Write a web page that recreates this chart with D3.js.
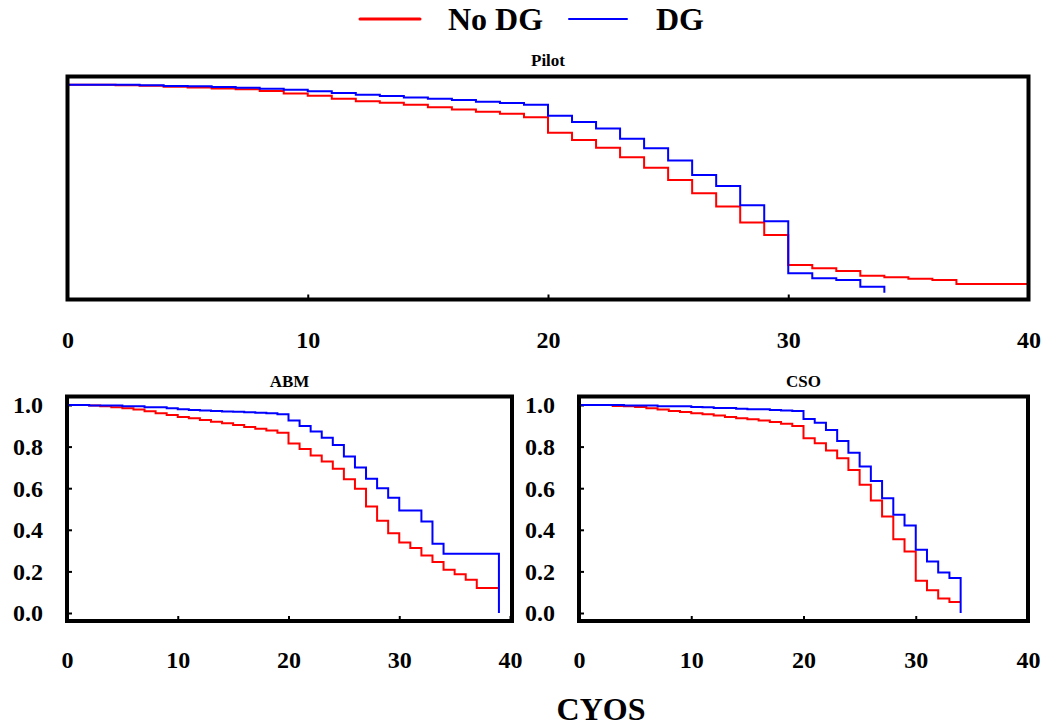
<!DOCTYPE html>
<html>
<head>
<meta charset="utf-8">
<script src="https://cdn.jsdelivr.net/npm/d3@7"></script>
<style>
body { margin: 0; background: #fff; }
text { font-family: "Liberation Serif", "Times New Roman", serif; font-weight: bold; fill: #000; }
</style>
</head>
<body>
<script>
// survival by year, index = year (CYOS)
var pilotNoDG = [1.0, 1.0, 0.997, 0.995, 0.990, 0.987, 0.982, 0.978, 0.970, 0.958,
                 0.947, 0.933, 0.921, 0.913, 0.904, 0.891, 0.881, 0.870, 0.860, 0.844,
                 0.769, 0.734, 0.697, 0.651, 0.601, 0.542, 0.478, 0.414, 0.337, 0.277,
                 0.133, 0.117, 0.104, 0.082, 0.074, 0.067, 0.061, 0.042, 0.042, 0.042, 0.0];
var pilotDG = [1.0, 1.0, 1.0, 0.997, 0.994, 0.992, 0.989, 0.985, 0.981, 0.976,
               0.968, 0.960, 0.952, 0.946, 0.939, 0.933, 0.926, 0.918, 0.912, 0.904,
               0.851, 0.821, 0.789, 0.740, 0.694, 0.635, 0.566, 0.513, 0.421, 0.344,
               0.093, 0.069, 0.061, 0.029, 0.0];

var abmNoDG = [1.0, 1.0, 0.997, 0.994, 0.989, 0.984, 0.978, 0.970, 0.960, 0.952,
               0.942, 0.936, 0.928, 0.920, 0.912, 0.904, 0.894, 0.886, 0.877, 0.867,
               0.815, 0.789, 0.757, 0.728, 0.693, 0.643, 0.597, 0.512, 0.443, 0.384,
               0.339, 0.312, 0.277, 0.245, 0.208, 0.186, 0.160, 0.120, 0.120, 0.120];
var abmDG = [1.0, 1.0, 0.997, 0.997, 0.997, 0.994, 0.994, 0.989, 0.989, 0.984,
             0.979, 0.976, 0.973, 0.971, 0.969, 0.967, 0.965, 0.963, 0.960, 0.955,
             0.925, 0.899, 0.872, 0.843, 0.808, 0.752, 0.699, 0.645, 0.600, 0.554,
             0.493, 0.493, 0.440, 0.333, 0.285, 0.285, 0.285, 0.285, 0.285, 0.0];

var csoNoDG = [1.0, 1.0, 1.0, 0.995, 0.994, 0.990, 0.984, 0.978, 0.971, 0.966,
               0.960, 0.955, 0.949, 0.942, 0.936, 0.931, 0.925, 0.918, 0.910, 0.899,
               0.840, 0.816, 0.781, 0.744, 0.688, 0.616, 0.541, 0.464, 0.355, 0.296,
               0.155, 0.109, 0.070, 0.053, 0.053];
var csoDG = [1.0, 1.0, 1.0, 1.0, 0.997, 0.997, 0.997, 0.994, 0.994, 0.994,
             0.990, 0.989, 0.986, 0.986, 0.982, 0.979, 0.979, 0.976, 0.974, 0.971,
             0.933, 0.915, 0.880, 0.827, 0.771, 0.704, 0.635, 0.552, 0.472, 0.421,
             0.304, 0.248, 0.195, 0.168, 0.0];

var xTicks = [0, 10, 20, 30, 40];
var yTicks = [0.0, 0.2, 0.4, 0.6, 0.8, 1.0];
var seriesNames = ["No DG", "DG"];
var seriesColors = ["#ff0000", "#0000ff"];

// layout properties
var p = {
    width: 1044,
    height: 727,
    frameWidth: 4,
    lineWidth: 2,
    tickLen: 5,
    labelSize: 24,
    titleSize: 17,
    bigSize: 32,
};

var svg = d3.select("body").append("svg").attr("width", p.width).attr("height", p.height);

function drawPanel(cfg) {
    var x = d3.scaleLinear().domain([0, 40]).range([cfg.x0, cfg.x1]);
    var y = d3.scaleLinear().domain([0, 1]).range([cfg.yZero, cfg.yOne]);
    var g = svg.append("g");

    // x axis, ticks pointing into the frame, labels far below
    var xa = g.append("g").attr("transform", "translate(0," + cfg.bottom + ")")
        .call(d3.axisBottom(x).tickValues(xTicks).tickSize(-p.tickLen).tickFormat(d3.format("d")));
    xa.select(".domain").remove();
    xa.selectAll("line").attr("stroke", "#000").attr("stroke-width", 2);
    xa.selectAll("text").attr("y", cfg.xLabelY - cfg.bottom).attr("dy", null)
        .style("font-size", p.labelSize + "px").attr("fill", "#000");

    if (cfg.yAxis) {
        var ya = g.append("g").attr("transform", "translate(" + cfg.x0 + ",0)")
            .call(d3.axisLeft(y).tickValues(yTicks).tickSize(-p.tickLen).tickPadding(24)
                .tickFormat(d3.format(".1f")));
        ya.select(".domain").remove();
        ya.selectAll("line").attr("stroke", "#000").attr("stroke-width", 2);
        ya.selectAll("text").attr("dy", "0.33em").style("font-size", p.labelSize + "px").attr("fill", "#000");
    }

    // survival curves, red under blue
    var line = d3.line()
        .x(function(d, i) { return x(i); })
        .y(function(d) { return y(d); })
        .curve(d3.curveStepAfter);
    cfg.series.forEach(function(s, i) {
        g.append("path").datum(s)
            .attr("d", line)
            .attr("fill", "none")
            .attr("stroke", seriesColors[i])
            .attr("stroke-width", p.lineWidth);
    });

    // frame
    g.append("rect")
        .attr("x", cfg.x0).attr("y", cfg.top)
        .attr("width", cfg.frameRight - cfg.x0).attr("height", cfg.bottom - cfg.top)
        .attr("fill", "none").attr("stroke", "#000").attr("stroke-width", p.frameWidth);

    g.append("text")
        .attr("x", (cfg.x0 + cfg.frameRight) / 2).attr("y", cfg.titleY)
        .attr("text-anchor", "middle").style("font-size", p.titleSize + "px")
        .text(cfg.title);
}

drawPanel({ title: "Pilot", x0: 67.5, x1: 1028.5, frameRight: 1028.5, top: 76.5, bottom: 299.5,
            yOne: 84.7, yZero: 292.7, titleY: 66, xLabelY: 348, yAxis: false,
            series: [pilotNoDG, pilotDG] });
drawPanel({ title: "ABM", x0: 67, x1: 510, frameRight: 512, top: 396.5, bottom: 621,
            yOne: 405, yZero: 613, titleY: 387, xLabelY: 668, yAxis: true,
            series: [abmNoDG, abmDG] });
drawPanel({ title: "CSO", x0: 579, x1: 1028, frameRight: 1028, top: 396.5, bottom: 621,
            yOne: 405, yZero: 613, titleY: 387, xLabelY: 668, yAxis: true,
            series: [csoNoDG, csoDG] });

// legend
var legend = [{ x1: 360, x2: 420, tx: 448, w: 3 }, { x1: 569, x2: 627, tx: 656, w: 2 }];
legend.forEach(function(l, i) {
    svg.append("line").attr("x1", l.x1).attr("x2", l.x2).attr("y1", 19).attr("y2", 19)
        .attr("stroke", seriesColors[i]).attr("stroke-width", l.w).attr("stroke-linecap", "round");
    svg.append("text").attr("x", l.tx).attr("y", 30).style("font-size", p.bigSize + "px").text(seriesNames[i]);
});

// shared x title
svg.append("text").attr("x", 601).attr("y", 720).attr("text-anchor", "middle")
    .style("font-size", p.bigSize + "px").text("CYOS");
</script>
</body>
</html>
